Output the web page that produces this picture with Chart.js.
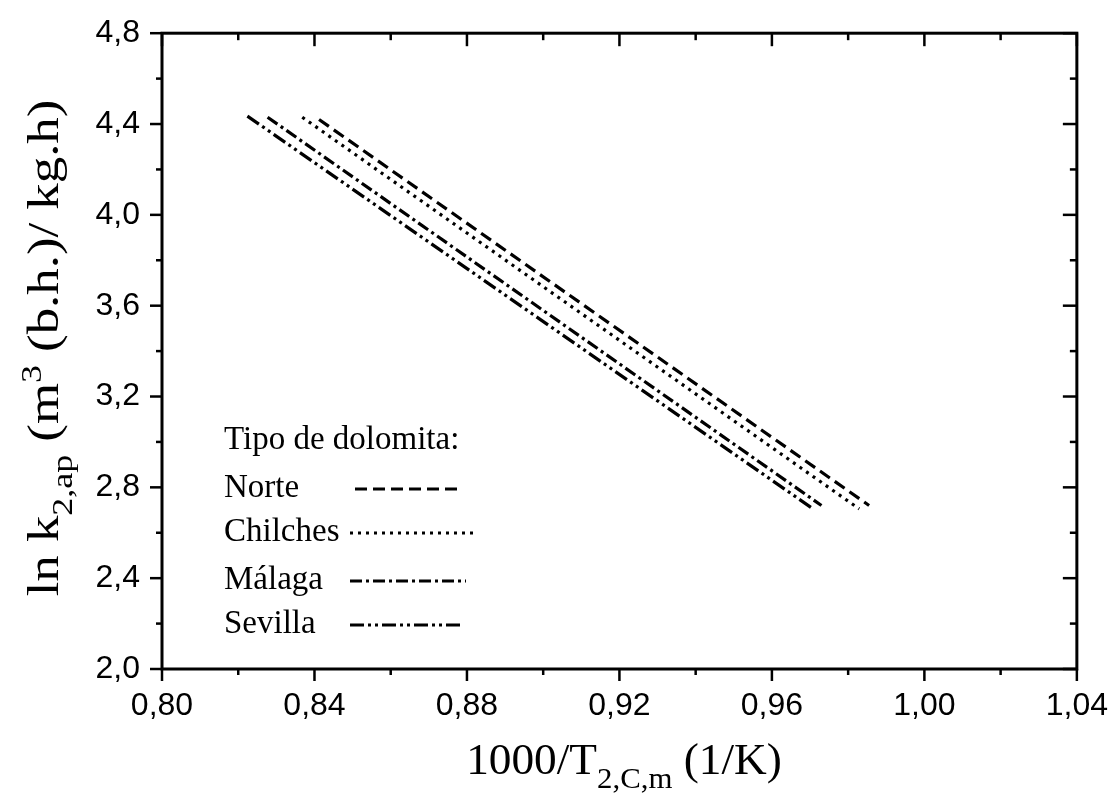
<!DOCTYPE html>
<html>
<head>
<meta charset="utf-8">
<script src="https://cdn.jsdelivr.net/npm/chart.js@4.4.1/dist/chart.umd.min.js"></script>
<style>
  html, body { margin: 0; background: #fff; }
  canvas { display: block; }
</style>
</head>
<body>
<canvas id="chart" width="1118" height="799"></canvas>
<script>
// values
const seriesNames = ['Norte', 'Chilches', 'Málaga', 'Sevilla'];
const norteX    = [0.8412, 0.9855];
const norteY    = [4.42, 2.72];
const chilchesX = [0.8368, 0.9829];
const chilchesY = [4.43, 2.705];
const malagaX   = [0.8277, 0.9730];
const malagaY   = [4.43, 2.72];
const sevillaX  = [0.8224, 0.9704];
const sevillaY  = [4.435, 2.71];

const xTickValues = [0.80, 0.84, 0.88, 0.92, 0.96, 1.00, 1.04];
const xTickLabels = ['0,80', '0,84', '0,88', '0,92', '0,96', '1,00', '1,04'];
const yTickValues = [2.0, 2.4, 2.8, 3.2, 3.6, 4.0, 4.4, 4.8];
const yTickLabels = ['2,0', '2,4', '2,8', '3,2', '3,6', '4,0', '4,4', '4,8'];

const legendTitle = 'Tipo de dolomita:';

const dashes = [[12, 6], [3, 5], [12, 4, 3, 4], [14, 4, 3, 4, 3, 4]];

function pts(xs, ys) { return xs.map((x, i) => ({ x, y: ys[i] })); }

const SERIF = '"Liberation Serif", "Times New Roman", serif';
const SANS = '"Liberation Sans", Arial, sans-serif';

// draws text pieces (normal / sub / sup) in one run, centred on x
function richText(ctx, parts, x, y, size, sx) {
  ctx.save();
  ctx.textBaseline = 'alphabetic';
  ctx.textAlign = 'left';
  let w = 0;
  parts.forEach(p => {
    ctx.font = `${p.k ? size * 0.68 : size}px ${SERIF}`;
    w += ctx.measureText(p.t).width;
  });
  ctx.translate(x, y);
  ctx.scale(sx, 1);
  let cx = -w / 2;
  parts.forEach(p => {
    ctx.font = `${p.k ? size * 0.68 : size}px ${SERIF}`;
    const dy = p.k === 'sub' ? size * 0.32 : p.k === 'sup' ? -size * 0.38 : 0;
    ctx.fillText(p.t, cx, dy);
    cx += ctx.measureText(p.t).width;
  });
  ctx.restore();
}

function minors(vals) {
  const out = [];
  for (let i = 0; i < vals.length - 1; i++) out.push((vals[i] + vals[i + 1]) / 2);
  return out;
}

const framePlugin = {
  id: 'frame',
  afterDatasetsDraw(chart) {
    const { ctx, chartArea: a, scales } = chart;
    ctx.save();
    ctx.strokeStyle = '#000';
    ctx.lineWidth = 3;
    ctx.strokeRect(a.left, a.top, a.right - a.left, a.bottom - a.top);
    ctx.lineWidth = 2.5;
    const line = (x1, y1, x2, y2) => { ctx.beginPath(); ctx.moveTo(x1, y1); ctx.lineTo(x2, y2); ctx.stroke(); };
    xTickValues.forEach(v => {
      const px = scales.x.getPixelForValue(v);
      line(px, a.bottom, px, a.bottom + 12);
      line(px, a.top, px, a.top + 13);
    });
    minors(xTickValues).forEach(v => {
      const px = scales.x.getPixelForValue(v);
      line(px, a.bottom, px, a.bottom + 6);
      line(px, a.top, px, a.top + 7);
    });
    yTickValues.forEach(v => {
      const py = scales.y.getPixelForValue(v);
      line(a.left - 12, py, a.left, py);
      line(a.right - 14, py, a.right, py);
    });
    minors(yTickValues).forEach(v => {
      const py = scales.y.getPixelForValue(v);
      line(a.left - 6, py, a.left, py);
      line(a.right - 7, py, a.right, py);
    });
    ctx.restore();
  },
  afterDraw(chart) {
    const { ctx } = chart;
    ctx.save();
    ctx.fillStyle = '#000';
    // legend inside the plot
    ctx.font = `33px ${SERIF}`;
    ctx.textBaseline = 'middle';
    ctx.textAlign = 'left';
    ctx.fillText(legendTitle, 224, 440);
    const rowY = [488, 532, 580, 624];
    const segX = [[355, 462], [350, 476], [350, 466], [350, 464]];
    chart.data.datasets.forEach((ds, i) => {
      ctx.fillText(ds.label, 224, rowY[i]);
      ctx.save();
      ctx.strokeStyle = '#000';
      ctx.lineWidth = 3;
      ctx.setLineDash(ds.borderDash);
      ctx.beginPath();
      ctx.moveTo(segX[i][0], rowY[i] + 1);
      ctx.lineTo(segX[i][1], rowY[i] + 1);
      ctx.stroke();
      ctx.restore();
    });
    // axis titles
    richText(ctx, [{ t: '1000/T' }, { t: '2,C,m', k: 'sub' }, { t: ' (1/K)' }], 624, 774, 44, 1.03);
    ctx.save();
    ctx.translate(58, 348);
    ctx.rotate(-Math.PI / 2);
    richText(ctx, [{ t: 'ln k' }, { t: '2,ap', k: 'sub' }, { t: ' (m' }, { t: '3', k: 'sup' }, { t: ' (b.h.)/ kg.h)' }], 0, 0, 44, 1.2);
    ctx.restore();
    ctx.restore();
  }
};

new Chart(document.getElementById('chart'), {
  type: 'line',
  data: {
    datasets: [
      { label: seriesNames[0], data: pts(norteX, norteY), borderDash: dashes[0] },
      { label: seriesNames[1], data: pts(chilchesX, chilchesY), borderDash: dashes[1] },
      { label: seriesNames[2], data: pts(malagaX, malagaY), borderDash: dashes[2] },
      { label: seriesNames[3], data: pts(sevillaX, sevillaY), borderDash: dashes[3] }
    ].map(d => Object.assign(d, {
      borderColor: '#000', borderWidth: 3.2, pointRadius: 0, fill: false, tension: 0
    }))
  },
  options: {
    responsive: false,
    animation: false,
    layout: { padding: { left: 0, top: 32, right: 37, bottom: 0 } },
    plugins: { legend: { display: false }, tooltip: { enabled: false } },
    scales: {
      x: {
        type: 'linear', min: 0.80, max: 1.04,
        grid: { display: false }, border: { display: false },
        afterBuildTicks: s => { s.ticks = xTickValues.map(v => ({ value: v })); },
        afterFit: s => { s.height = 130; },
        ticks: {
          color: '#000', padding: 10, maxRotation: 0, autoSkip: false,
          font: { family: SANS, size: 32 },
          callback: (v, i) => xTickLabels[i]
        }
      },
      y: {
        type: 'linear', min: 2.0, max: 4.8,
        grid: { display: false }, border: { display: false },
        afterBuildTicks: s => { s.ticks = yTickValues.map(v => ({ value: v })); },
        afterFit: s => { s.width = 162; },
        ticks: {
          color: '#000', padding: 14, autoSkip: false,
          font: { family: SANS, size: 32 },
          callback: (v, i) => yTickLabels[i]
        }
      }
    }
  },
  plugins: [framePlugin]
});
</script>
</body>
</html>
